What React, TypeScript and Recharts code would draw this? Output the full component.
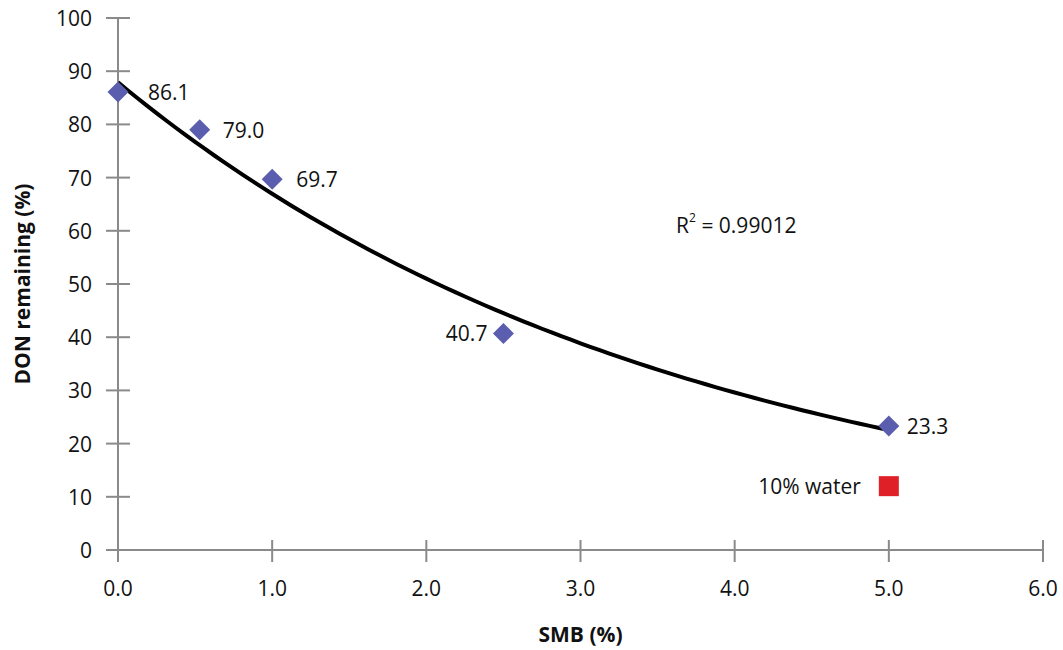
import { ScatterChart, Scatter, XAxis, YAxis, ReferenceDot, LabelList } from 'recharts'

const smb = [0, 0.53, 1.0, 2.5, 5.0]
const donRemaining = [86.1, 79.0, 69.7, 40.7, 23.3]
const waterPoint = { x: 5.0, y: 12 }
const waterLabel = '10% water'
const r2Text = '0.99012'
const xTicks = [0, 1, 2, 3, 4, 5, 6]
const yTicks = [0, 10, 20, 30, 40, 50, 60, 70, 80, 90, 100]

// label offsets for the point values (left label on the 2.5 point)
const labelDx = [30, 23, 24, -16, 18]

const FONT = '"Open Sans", sans-serif'
const FS = 21
const AXIS = '#8a8a8a'

const points = smb.map((x, i) => ({ x, y: donRemaining[i] }))

// exponential trendline, least squares on ln(y) like Excel does
function expFit(xs: number[], ys: number[]) {
    const n = xs.length
    const ly = ys.map(v => Math.log(v))
    const mx = xs.reduce((a, b) => a + b, 0) / n
    const my = ly.reduce((a, b) => a + b, 0) / n
    let sxy = 0
    let sxx = 0
    xs.forEach((x, i) => {
        sxy += (x - mx) * (ly[i] - my)
        sxx += (x - mx) * (x - mx)
    })
    const b = sxy / sxx
    const a = Math.exp(my - b * mx)
    return { a, b }
}

const fit = expFit(smb, donRemaining)
const xMax = Math.max(...smb)
const trend = Array.from({ length: 81 }, (_, i) => {
    const x = (xMax * i) / 80
    return { x, y: fit.a * Math.exp(fit.b * x) }
})

const Diamond = (props: any) => {
    const { cx, cy } = props
    const s = 10.5
    return <polygon points={`${cx},${cy - s} ${cx + s},${cy} ${cx},${cy + s} ${cx - s},${cy}`} fill="#5b5eae" />
}

const Square = (props: any) => {
    const { cx, cy } = props
    return (
        <g>
            <rect x={cx - 10} y={cy - 10} width={20} height={20} fill="#df2027" />
            <text x={cx - 28} y={cy} textAnchor="end" dominantBaseline="central" fontFamily={FONT} fontSize={FS} fill="#111">{waterLabel}</text>
        </g>
    )
}

const YTick = (props: any) => {
    const { x, y, payload } = props
    return (
        <g>
            <line x1={x - 12} x2={x + 12} y1={y} y2={y} stroke={AXIS} strokeWidth={2} />
            <text x={x - 26} y={y} textAnchor="end" dominantBaseline="central" fontFamily={FONT} fontSize={FS} fill="#111">{payload.value}</text>
        </g>
    )
}

const XTick = (props: any) => {
    const { x, y, payload } = props
    return (
        <g>
            <line x1={x} x2={x} y1={y - 10} y2={y + 12} stroke={AXIS} strokeWidth={2} />
            <text x={x} y={y + 38} textAnchor="middle" dominantBaseline="central" fontFamily={FONT} fontSize={FS} fill="#111">{Number(payload.value).toFixed(1)}</text>
        </g>
    )
}

const ValueLabel = (props: any) => {
    const { x, y, width, height, value, index } = props
    const cx = x + (width || 0) / 2
    const cy = y + (height || 0) / 2
    const dx = labelDx[index] ?? 22
    return (
        <text x={cx + dx} y={cy} textAnchor={dx < 0 ? 'end' : 'start'} dominantBaseline="central" fontFamily={FONT} fontSize={FS} fill="#111">
            {Number(value).toFixed(1)}
        </text>
    )
}

export default function App() {
    return (
        <div style={{ position: 'absolute', left: 0, top: 0, background: '#fff' }}>
            <ScatterChart width={1063} height={650} margin={{ top: 18, right: 20, left: 0, bottom: 0 }}>
                <XAxis
                    type="number"
                    dataKey="x"
                    domain={[0, 6]}
                    ticks={xTicks}
                    height={100}
                    tickSize={0}
                    tickMargin={0}
                    tickLine={false}
                    axisLine={{ stroke: AXIS, strokeWidth: 2 }}
                    tick={<XTick />}
                    label={{ value: 'SMB (%)', position: 'insideBottom', offset: 8, fontFamily: FONT, fontSize: FS, fontWeight: 'bold', fill: '#111' }}
                />
                <YAxis
                    type="number"
                    dataKey="y"
                    domain={[0, 100]}
                    ticks={yTicks}
                    width={118}
                    tickSize={0}
                    tickMargin={0}
                    tickLine={false}
                    axisLine={{ stroke: AXIS, strokeWidth: 2 }}
                    tick={<YTick />}
                    label={(p: any) => {
                        const vb = p.viewBox
                        const cx = vb.x + 22
                        const cy = vb.y + vb.height / 2
                        return (
                            <text x={cx} y={cy} transform={`rotate(-90, ${cx}, ${cy})`} textAnchor="middle" dominantBaseline="central" fontFamily={FONT} fontSize={FS} fontWeight="bold" fill="#111">
                                DON remaining (%)
                            </text>
                        )
                    }}
                />
                <Scatter data={trend} line={{ stroke: '#000', strokeWidth: 4 }} lineType="joint" shape={() => null} isAnimationActive={false} />
                <Scatter data={points} shape={<Diamond />} isAnimationActive={false}>
                    <LabelList dataKey="y" content={<ValueLabel />} />
                </Scatter>
                <Scatter data={[waterPoint]} shape={<Square />} isAnimationActive={false} />
                <ReferenceDot
                    x={3.62}
                    y={61}
                    r={0}
                    fill="none"
                    stroke="none"
                    label={(p: any) => (
                        <text x={p.viewBox.x} y={p.viewBox.y} dominantBaseline="central" fontFamily={FONT} fontSize={FS} fill="#111">
                            R<tspan fontSize={12} dy={-8}>2</tspan>
                            <tspan dy={8}> = {r2Text}</tspan>
                        </text>
                    )}
                />
            </ScatterChart>
        </div>
    )
}
